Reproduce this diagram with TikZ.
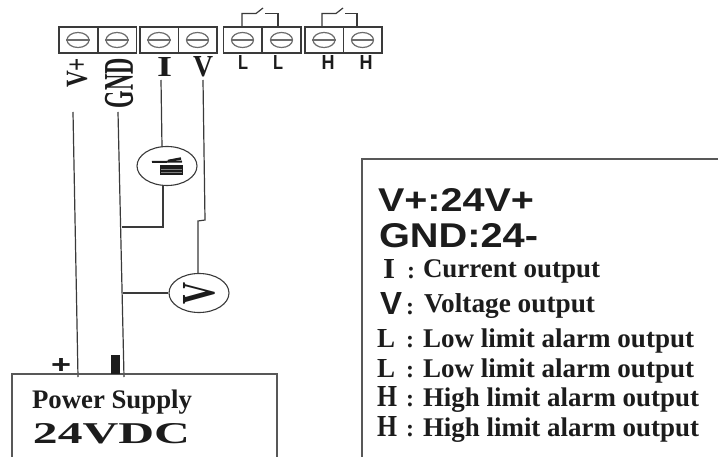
\documentclass[tikz,border=0pt]{standalone}
\usepackage{fontspec}
\usepackage{graphicx}
\setmainfont{Liberation Serif}
\newfontfamily\arialf{Liberation Sans}
\usetikzlibrary{shapes.geometric}
\definecolor{ink}{HTML}{3A3A3A}
\definecolor{txt}{HTML}{1C1C1C}
\tikzset{
  wire/.style={draw=ink,line width=1.2pt},
  term/.style={draw=ink,line width=1.5pt,minimum width=38.5pt,minimum height=26pt,inner sep=0pt,outer sep=0pt},
  screw/.style={ellipse,draw=gray!85!black,line width=1.2pt,minimum width=22pt,minimum height=15pt,inner sep=0pt},
  meter/.style={ellipse,draw=ink,line width=1.1pt,minimum width=60pt,minimum height=39pt,inner sep=0pt,text=txt},
  lab/.style={inner sep=0pt,outer sep=0pt,anchor=base west,text=txt},
  tlab/.style={inner sep=0pt,outer sep=0pt,text=txt,font=\bfseries},
  frame/.style={draw=ink!85,line width=1.3pt},
  colon/.style={lab,font=\fontsize{24}{24}\selectfont\bfseries}
}
\newcommand{\cell}[2]{%
  \node[term] (#1) at (#2,40) {};
  \node[screw] (#1s) at (#2,40) {};
  \draw[gray!85!black,line width=1.2pt] (#1s.west) -- (#1s.east);
}
\begin{document}
\begin{tikzpicture}[x=1pt,y=-1pt]
\useasboundingbox (0,0) rectangle (718,457);
\fill[white] (0,0) rectangle (718,457);
% terminals
\cell{a}{78}
\cell{b}{117}
\cell{c}{159}
\cell{d}{197.5}
\cell{e}{242.5}
\cell{f}{281.5}
\cell{g}{324}
\cell{h}{362.5}
% relay contacts
\coordinate (e1) at (242,27); \coordinate (f1) at (278,27);
\coordinate (g1) at (322,27); \coordinate (h1) at (357,27);
\draw[wire] (e1) -- (242,13.5) -- (256,13.5) -- (263,8);
\draw[wire] (265,13.5) -- (278,13.5) -- (f1);
\draw[wire] (g1) -- (322,13.5) -- (336,13.5) -- (343,8);
\draw[wire] (345,13.5) -- (357,13.5) -- (h1);
% terminal labels
\node[tlab,rotate=90] (lvp) at (77,73) {\resizebox{30pt}{20pt}{V+}};
\node[tlab,rotate=90] (lgnd) at (119,83) {\resizebox{50pt}{28pt}{GND}};
\node[tlab] (li) at (164.5,67.5) {\resizebox{15pt}{19pt}{I}};
\node[tlab] (lv) at (203,67) {\resizebox{20pt}{20pt}{V}};
\node[tlab] (ll1) at (243,63) {\arialf\bfseries\resizebox{10pt}{14pt}{L}};
\node[tlab] (ll2) at (278,63) {\arialf\bfseries\resizebox{10pt}{14pt}{L}};
\node[tlab] (lh1) at (328,63) {\arialf\bfseries\resizebox{13pt}{14pt}{H}};
\node[tlab] (lh2) at (366,63) {\arialf\bfseries\resizebox{13pt}{14pt}{H}};
% meters
\node[meter] (ma) at (167,166) {};
\fill[txt] (160,165) rectangle (183,175);
\draw[txt,line width=2pt] (152,162) -- (182,161.5);
\draw[txt,line width=2.5pt] (168,161) -- (181,158.5);
\draw[gray,line width=.7pt] (161,169) -- (182,169);
\draw[gray,line width=.7pt] (161,172.5) -- (182,172.5);
\node[meter] (mv) at (199,293) {\rotatebox{90}{\bfseries\resizebox{22pt}{31pt}{V}}};
% wires
\coordinate (psp) at (78,377);
\coordinate (psg) at (124,377);
\coordinate (tv) at (73,112);
\coordinate (tg) at (118,112);
\coordinate (ti) at (161,80);
\coordinate (tvv) at (203,80);
\coordinate (ja) at (122,227);
\coordinate (jv) at (123,293);
\draw[wire] (tv) -- (psp);
\draw[wire] (tg) -- (psg);
\draw[wire] (ti) -- (162,147);
\draw[wire] (163,186) -- (163,227) -- (ja);
\draw[wire] (tvv) -- (205,220) -- (198,221) -- (198,273);
\draw[wire] (mv.west) -- (jv);
% power supply
\draw[frame] (12,457) -- (12,374) -- (277,374) -- (277,457);
\node[tlab] (plus) at (61,366) {\arialf\bfseries\resizebox{20pt}{15pt}{+}};
\fill[txt] (111,355) rectangle (120,374);
\node[lab,font=\bfseries] (ps) at (32,408) {\resizebox{160pt}{!}{Power Supply}};
\node[lab] (vdc) at (33,443) {\resizebox{157pt}{20pt}{\bfseries 24VDC}};
% legend
\draw[frame] (362,457) -- (362,159) -- (718,159);
\node[lab] (t1) at (378,212) {\resizebox{156pt}{23pt}{\arialf\bfseries V+:24V+}};
\node[lab] (t2) at (379,248) {\resizebox{159pt}{24pt}{\arialf\bfseries GND:24-}};
\node[lab] (s1) at (383,279) {\resizebox{12pt}{19pt}{\bfseries I}};
\node[colon] (c1) at (407,279) {:};
\node[lab,font=\bfseries] (t3) at (423,278) {\resizebox{177pt}{!}{Current output}};
\node[lab] (s2) at (380,315) {\resizebox{22pt}{22pt}{\arialf\bfseries V}};
\node[colon] (c2) at (406,315) {:};
\node[lab,font=\bfseries] (t4) at (424,313) {\resizebox{171pt}{!}{Voltage output}};
\node[lab] (s3) at (377,347) {\resizebox{18pt}{18pt}{\bfseries L}};
\node[colon] (c3) at (406,347) {:};
\node[lab,font=\bfseries] (t5) at (423,347) {\resizebox{271pt}{!}{Low limit alarm output}};
\node[lab] (s4) at (377,377) {\resizebox{18pt}{18pt}{\bfseries L}};
\node[colon] (c4) at (406,377) {:};
\node[lab,font=\bfseries] (t6) at (423,377) {\resizebox{271pt}{!}{Low limit alarm output}};
\node[lab] (s5) at (377,406) {\resizebox{20pt}{20pt}{\bfseries H}};
\node[colon] (c5) at (406,406) {:};
\node[lab,font=\bfseries] (t7) at (423,406) {\resizebox{276pt}{!}{High limit alarm output}};
\node[lab] (s6) at (377,436) {\resizebox{20pt}{20pt}{\bfseries H}};
\node[colon] (c6) at (406,436) {:};
\node[lab,font=\bfseries] (t8) at (423,436) {\resizebox{276pt}{!}{High limit alarm output}};
\end{tikzpicture}
\end{document}
